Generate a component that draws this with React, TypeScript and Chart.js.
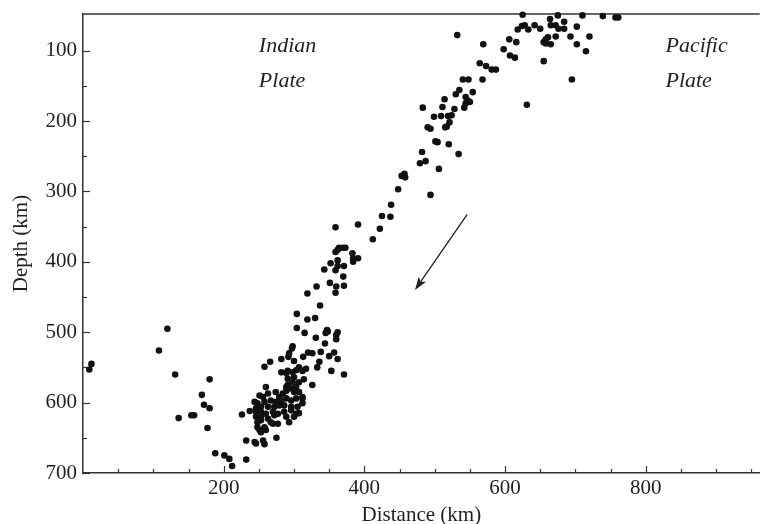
import React, { useEffect, useRef } from "react";
import { Chart, registerables } from "chart.js";

Chart.register(...registerables);

// Earthquake hypocentres: distance along section (km) and depth (km)
const distanceKm = [
  625, 664, 675, 684, 710, 739, 757, 761,
  618, 624, 628, 633, 642, 650, 665, 672, 676, 684, 702, 693, 720, 702, 715,
  532, 606, 616, 661, 658, 655, 658, 665, 672,
  569, 598, 607, 614, 655,
  564, 573, 581, 587,
  540, 548, 568, 695,
  535, 530, 554, 514, 544, 547, 550, 544, 542, 511, 528, 631,
  483, 499, 509, 519, 524, 521, 517, 515, 490, 494,
  501, 504, 520, 482, 487, 479, 534, 506,
  453, 457, 458, 448, 494, 438, 425, 437, 422, 412, 391,
  359, 364, 369, 373, 359, 362, 383, 384, 384, 391,
  352, 362, 362, 359, 371, 370, 351, 360, 371, 359,
  343, 319, 332, 337, 304, 319, 330, 304, 315, 347, 348, 345, 362, 360, 360, 331, 344,
  298, 297, 293, 292, 320, 326, 338, 357, 350, 362, 313, 282, 300, 336, 333, 353, 371,
  307, 317, 312, 303, 298, 291, 282, 300, 314, 307, 298, 291, 326, 289,
  260, 291, 289, 296, 303, 289, 307, 284, 312, 300,
  251, 256, 263, 274, 279,
  244, 248, 258, 267, 274, 282, 289, 296, 303, 312,
  246, 253, 263, 272, 279, 286, 296, 305, 312,
  226, 237, 246, 253, 260, 270, 277, 286, 296, 303, 307,
  246, 253, 263, 272, 289, 300,
  248, 253, 267, 277, 293, 248, 251, 258, 270, 253, 260,
  275, 232, 244, 246, 256, 258,
  232, 201, 208, 212, 188,
  177, 136, 154, 158, 180, 172, 169, 180, 131, 108, 120, 12, 9,
  258, 266,
];

const depthKm = [
  49, 55, 50, 59, 50, 51, 53, 53,
  70, 65, 64, 70, 64, 69, 64, 64, 69, 69, 66, 80, 80, 91, 101,
  78, 84, 88, 81, 84, 88, 90, 91, 80,
  91, 98, 107, 110, 115,
  118, 122, 127, 127,
  141, 141, 141, 141,
  156, 162, 159, 169, 166, 171, 173, 175, 181, 180, 183, 177,
  181, 194, 193, 193, 192, 202, 208, 209, 209, 211,
  229, 230, 233, 244, 257, 260, 247, 268,
  278, 275, 280, 297, 305, 319, 335, 336, 353, 368, 347,
  351, 380, 380, 380, 386, 383, 388, 395, 400, 395,
  402, 398, 406, 412, 406, 421, 430, 435, 434, 444,
  411, 445, 435, 462, 474, 482, 480, 494, 501, 497, 499, 501, 500, 504, 510, 508, 516,
  520, 523, 530, 535, 529, 530, 528, 529, 534, 538, 535, 538, 541, 542, 550, 555, 560,
  550, 552, 555, 554, 557, 555, 557, 564, 567, 571, 571, 566, 575, 558,
  578, 575, 583, 580, 578, 578, 585, 587, 592, 585,
  590, 592, 587, 585, 592,
  599, 601, 599, 597, 599, 597, 594, 597, 594, 594,
  608, 606, 606, 606, 604, 604, 606, 606, 601,
  617, 612, 613, 613, 616, 613, 616, 613, 611, 616, 615,
  620, 620, 623, 618, 620, 620,
  628, 625, 628, 630, 628, 635, 639, 635, 630, 642, 639,
  650, 654, 656, 658, 654, 659,
  681, 675, 680, 690, 672,
  636, 622, 618, 618, 608, 603, 589, 567, 560, 526, 495, 545, 553,
  549, 542,
];

// Axis ticks
const xTickValues = [200, 400, 600, 800];
const xMinorTicks = [50, 100, 150, 250, 300, 350, 450, 500, 550, 650, 700, 750, 850, 900, 950];
const yTickValues = [100, 200, 300, 400, 500, 600, 700];
const yMinorTicks = [150, 250, 350, 450, 550, 650];

// Plate labels (distance, depth of baseline)
const labelTexts = ["Indian", "Plate", "Pacific", "Plate"];
const labelDistance = [250, 250, 828, 828];
const labelDepth = [102, 151, 102, 151];

// Arrow (distance, depth) from -> to
const arrowFrom = [546, 333];
const arrowTo = [472, 440];

const FONT = "'Liberation Serif', 'Times New Roman', serif";
const INK = "#231f20";

export default function App() {
  const ref = useRef<HTMLCanvasElement>(null);

  useEffect(() => {
    document.body.style.margin = "0";
    const canvas = ref.current;
    if (!canvas) return;

    const overlay = {
      id: "overlay",
      beforeDatasetsDraw(chart: any) {
        const { ctx, chartArea, scales } = chart;
        const xs = scales.x;
        const ys = scales.y;
        ctx.save();
        ctx.strokeStyle = "#333";
        ctx.lineWidth = 1.5;
        // top frame line
        ctx.beginPath();
        ctx.moveTo(chartArea.left, chartArea.top);
        ctx.lineTo(chartArea.right, chartArea.top);
        ctx.stroke();
        ctx.lineWidth = 1.2;
        // x ticks (inward)
        const drawX = (v: number, len: number) => {
          const px = Math.round(xs.getPixelForValue(v)) + 0.5;
          ctx.beginPath();
          ctx.moveTo(px, chartArea.bottom);
          ctx.lineTo(px, chartArea.bottom - len);
          ctx.stroke();
        };
        xTickValues.forEach((v) => drawX(v, 7));
        xMinorTicks.forEach((v) => drawX(v, 4));
        const drawY = (v: number, len: number) => {
          const py = Math.round(ys.getPixelForValue(v)) + 0.5;
          ctx.beginPath();
          ctx.moveTo(chartArea.left, py);
          ctx.lineTo(chartArea.left + len, py);
          ctx.stroke();
        };
        yTickValues.forEach((v) => drawY(v, 7));
        yMinorTicks.forEach((v) => drawY(v, 4));

        // plate labels
        ctx.fillStyle = INK;
        ctx.font = `italic 22px ${FONT}`;
        ctx.textAlign = "left";
        ctx.textBaseline = "alphabetic";
        labelTexts.forEach((t, i) => {
          ctx.fillText(t, xs.getPixelForValue(labelDistance[i]), ys.getPixelForValue(labelDepth[i]));
        });

        // arrow
        const x1 = xs.getPixelForValue(arrowFrom[0]);
        const y1 = ys.getPixelForValue(arrowFrom[1]);
        const x2 = xs.getPixelForValue(arrowTo[0]);
        const y2 = ys.getPixelForValue(arrowTo[1]);
        const ang = Math.atan2(y2 - y1, x2 - x1);
        const headLen = 13;
        const headW = 4.5;
        const bx = x2 - headLen * Math.cos(ang);
        const by = y2 - headLen * Math.sin(ang);
        ctx.strokeStyle = INK;
        ctx.lineWidth = 1.3;
        ctx.beginPath();
        ctx.moveTo(x1, y1);
        ctx.lineTo(bx + 3 * Math.cos(ang), by + 3 * Math.sin(ang));
        ctx.stroke();
        ctx.beginPath();
        ctx.moveTo(x2, y2);
        ctx.lineTo(bx + headW * Math.sin(ang), by - headW * Math.cos(ang));
        ctx.lineTo(bx + 3 * Math.cos(ang), by + 3 * Math.sin(ang));
        ctx.lineTo(bx - headW * Math.sin(ang), by + headW * Math.cos(ang));
        ctx.closePath();
        ctx.fill();
        ctx.restore();
      },
    };

    const chart = new Chart(canvas, {
      type: "scatter",
      data: {
        datasets: [
          {
            data: distanceKm.map((x, i) => ({ x, y: depthKm[i] })),
            pointRadius: 3.3,
            pointBackgroundColor: "#111",
            pointBorderWidth: 0,
            pointHoverRadius: 3.3,
            clip: false as any,
          },
        ],
      },
      options: {
        responsive: false,
        animation: false,
        events: [],
        layout: { padding: { top: 14, right: 0, left: 0, bottom: 0 } },
        plugins: { legend: { display: false }, tooltip: { enabled: false } },
        scales: {
          x: {
            type: "linear",
            min: 0,
            max: 962,
            afterBuildTicks: (s: any) => {
              s.ticks = xTickValues.map((v) => ({ value: v }));
            },
            afterFit: (s: any) => {
              s.height = 51;
              s.paddingLeft = 0;
              s.paddingRight = 0;
            },
            grid: { display: false, drawTicks: false },
            border: { display: true, color: "#333", width: 1.5 },
            ticks: {
              padding: 3,
              color: INK,
              font: { family: FONT, size: 21 },
              maxRotation: 0,
              autoSkip: false,
            },
            title: {
              display: true,
              text: "Distance (km)",
              color: INK,
              font: { family: FONT, size: 21, lineHeight: 0.85 },
              padding: { top: 0, bottom: 0 },
            },
          },
          y: {
            type: "linear",
            reverse: true,
            min: 48,
            max: 700,
            afterBuildTicks: (s: any) => {
              s.ticks = yTickValues.map((v) => ({ value: v }));
            },
            afterFit: (s: any) => {
              s.width = 83;
              s.paddingTop = 0;
              s.paddingBottom = 0;
            },
            grid: { display: false, drawTicks: false },
            border: { display: true, color: "#333", width: 1.5 },
            ticks: {
              padding: 6,
              color: INK,
              font: { family: FONT, size: 21 },
              autoSkip: false,
            },
            title: {
              display: true,
              text: "Depth (km)",
              color: INK,
              font: { family: FONT, size: 21, lineHeight: 0.85 },
              padding: { top: 13, bottom: 0 },
            },
          },
        },
      },
      plugins: [overlay],
    });

    return () => chart.destroy();
  }, []);

  return (
    <div style={{ position: "absolute", left: 0, top: 0, width: 763, height: 524 }}>
      <canvas ref={ref} width={763} height={524} style={{ display: "block" }} />
    </div>
  );
}
